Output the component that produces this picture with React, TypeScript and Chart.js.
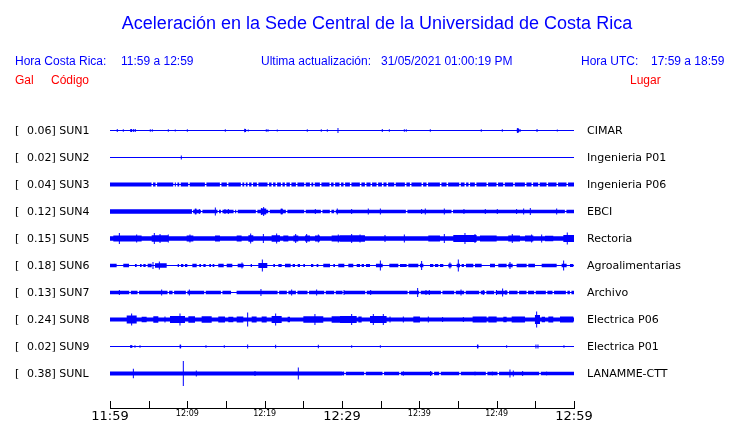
import React, { useEffect, useRef } from "react";
import { Chart, registerables } from "chart.js";

Chart.register(...registerables);

// ---------------- data ----------------
const TITLE = "Aceleración en la Sede Central de la Universidad de Costa Rica";
const LOCAL_LABEL = "Hora Costa Rica:";
const LOCAL_RANGE = "11:59 a 12:59";
const UPDATE_LABEL = "Ultima actualización:";
const UPDATE_VALUE = "31/05/2021 01:00:19 PM";
const UTC_LABEL = "Hora UTC:";
const UTC_RANGE = "17:59 a 18:59";
const COL_GAL = "Gal";
const COL_CODE = "Código";
const COL_PLACE = "Lugar";

const CODES = ["SUN1", "SUN2", "SUN3", "SUN4", "SUN5", "SUN6", "SUN7", "SUN8", "SUN9", "SUNL"];
const PEAK_GAL = [0.06, 0.02, 0.04, 0.12, 0.15, 0.18, 0.13, 0.24, 0.02, 0.38];
const PLACES = [
  "CIMAR",
  "Ingenieria P01",
  "Ingenieria P06",
  "EBCI",
  "Rectoria",
  "Agroalimentarias",
  "Archivo",
  "Electrica P06",
  "Electrica P01",
  "LANAMME-CTT",
];

// minutes since 11:59
const WINDOW_MIN = 60;
const TICK_STEP = 5;
const TICK_LABELS = ["11:59", "12:09", "12:19", "12:29", "12:39", "12:49", "12:59"];

// trace amplitudes (relative units), background noise level per station
const BASE_AMP = [0.5, 0.5, 2, 1.8, 2.3, 0.5, 1.8, 2, 0.5, 1.8];

// levels: [start minute, end minute, amplitude]; spikes: [minute, amplitude]; dips: minute
const SUN1_LEVELS = [[17.35, 17.6, 1.5], [52.6, 52.9, 2]];
const SUN1_DIPS: number[] = [];
const SUN1_SPIKES = [
  [0.94, 1.5], [1.72, 1.3], [2.68, 1.5], [2.81, 1.5], [3.06, 1.5], [3.27, 1.5], [5.21, 1.3], [5.47, 1.3],
  [7.54, 1.3], [8.44, 1], [10.0, 1.3], [14.91, 1.3], [17.42, 1.8], [17.88, 1], [20.21, 1.3], [20.43, 1.3],
  [21.63, 1], [25.51, 1.3], [27.32, 1.3], [28.1, 1.3], [29.48, 2.5], [35.21, 1.5], [36.12, 1.3], [38.06, 1.3],
  [38.31, 1.3], [41.42, 1.3], [48.01, 1.3], [50.73, 1.3], [52.72, 2.5], [53.02, 1.5], [55.22, 1.5], [57.84, 1],
];

const SUN2_LEVELS: number[][] = [];
const SUN2_DIPS: number[] = [];
const SUN2_SPIKES = [[9.22, 2]];

const SUN3_LEVELS: number[][] = [];
const SUN3_DIPS = [
  5.47, 5.99, 8.28, 8.62, 9.05, 10.21, 12.37, 14.31, 15.21, 17.02, 17.46, 17.89, 18.4, 19.09, 20.47, 20.99,
  21.51, 22.2, 22.71, 23.36, 24.14, 25.21, 25.95, 26.38, 27.24, 28.49, 29.01, 29.78, 30.3, 31.12, 32.41, 33.06,
  33.79, 34.57, 35.26, 35.86, 36.85, 38.23, 38.88, 40.39, 41.03, 42.76, 43.62, 45.26, 45.95, 46.46, 47.28,
  48.79, 50.08, 50.95, 52.24, 53.75, 54.61, 55.47, 56.55, 57.84, 59.13,
];
const SUN3_SPIKES: number[][] = [];

const SUN4_LEVELS = [[0, 10.6, 2.3], [10.95, 11.2, 2.8], [19.5, 20.2, 3], [22.05, 22.35, 2.8]];
const SUN4_DIPS = [10.65, 11.85, 14.0, 14.44, 16.08, 16.42, 18.96, 20.56, 22.84, 25.21, 27.37, 28.53, 29.09, 38.36, 44.26, 58.92];
const SUN4_SPIKES = [
  [11.08, 3], [11.55, 2.5], [13.62, 4], [14.87, 2.5], [15.3, 2.5], [19.61, 3.5], [19.87, 4.5], [20.13, 3],
  [22.2, 3], [26.55, 2.5], [29.39, 3], [31.25, 2.5], [33.4, 3], [34.96, 3], [40.3, 2.5], [40.77, 3],
  [43.23, 3], [45.77, 2.5], [48.53, 2.5], [50.08, 2.5], [52.58, 2.5], [53.49, 3], [54.35, 3.5], [57.76, 3],
];

const SUN5_LEVELS = [
  [0.43, 4.09, 3.1], [5.39, 7.54, 3.2], [9.91, 10.78, 2.9], [13.58, 14.22, 2.9], [16.38, 17.02, 3],
  [17.89, 18.53, 3.2], [20.9, 21.98, 3.2], [22.41, 23.06, 2.9], [23.71, 24.35, 2.9], [25.21, 25.86, 2.9],
  [26.51, 27.15, 2.9], [28.66, 30.39, 3], [29.74, 32.97, 3.2], [41.16, 42.67, 2.9], [44.39, 47.41, 3.4],
  [47.84, 50.0, 2.9], [51.5, 53.01, 3.1], [53.66, 54.74, 2.9], [56.25, 57.32, 2.7], [58.62, 60, 3.4],
];
const SUN5_DIPS: number[] = [];
const SUN5_SPIKES = [
  [1.21, 5.5], [3.45, 4], [5.73, 5.5], [6.47, 4.5], [7.54, 4], [10.34, 4], [18.19, 5], [19.83, 4.5],
  [21.55, 5], [24.01, 4.5], [25.43, 4.5], [26.94, 4], [29.52, 4], [31.25, 4.5], [32.33, 4], [35.56, 3.5],
  [38.06, 4], [43.23, 4.5], [45.9, 5.5], [47.2, 4.5], [52.02, 4.5], [54.52, 4], [55.82, 4], [59.13, 6],
];

const SUN6_LEVELS = [
  [0, 0.86, 1.8], [1.72, 2.46, 1.8], [3.23, 3.45, 1.5], [3.88, 4.09, 1.5], [4.31, 4.61, 1.5], [4.87, 5.39, 1.8],
  [5.82, 7.33, 2.3], [8.75, 8.92, 1.5], [9.18, 9.48, 1.5], [9.7, 10.0, 1.5], [10.65, 11.21, 1.8], [11.55, 11.77, 1.5],
  [12.07, 12.37, 1.5], [12.84, 13.06, 1.5], [13.27, 13.49, 1.5], [14.0, 14.7, 1.8], [15.09, 15.82, 1.8],
  [16.51, 17.28, 1.8], [18.19, 18.36, 1.5], [19.18, 20.34, 2.5], [21.12, 21.33, 1.5], [21.77, 22.2, 1.5],
  [22.63, 23.36, 1.8], [23.62, 23.92, 1.5], [24.27, 24.57, 1.5], [25.0, 25.21, 1.5], [25.99, 26.29, 1.5],
  [26.72, 26.94, 1.5], [27.58, 28.45, 1.8], [28.88, 29.09, 1.5], [29.52, 30.3, 1.8], [30.82, 31.46, 1.8],
  [31.9, 32.33, 1.5], [32.54, 32.84, 1.5], [33.1, 33.62, 1.5], [34.39, 35.26, 1.8], [36.12, 37.28, 1.8],
  [37.5, 38.36, 1.5], [38.58, 39.87, 1.8], [40.08, 40.52, 1.8], [41.38, 41.81, 1.5], [42.02, 42.45, 1.5],
  [42.67, 43.1, 1.5], [43.75, 44.18, 1.8], [44.83, 45.26, 1.8], [45.47, 45.77, 1.5], [46.03, 46.98, 1.8],
  [47.2, 48.06, 1.8], [49.14, 49.78, 1.8], [50.21, 51.29, 1.8], [51.5, 52.07, 1.8], [52.58, 53.88, 1.8],
  [54.09, 54.95, 1.8], [55.82, 57.76, 1.8], [58.4, 59.05, 1.8], [59.48, 59.91, 1.5],
];
const SUN6_DIPS: number[] = [];
const SUN6_SPIKES = [
  [5.56, 3.5], [6.38, 4], [17.07, 3], [19.7, 6], [34.96, 5], [40.3, 4.5], [43.96, 3], [45.04, 6], [51.72, 3.5], [58.66, 5],
];

const SUN7_LEVELS = [[15.65, 16.37, 0.5]];
const SUN7_DIPS = [
  2.59, 3.66, 7.54, 8.19, 9.91, 12.28, 14.44, 21.77, 22.97, 24.14, 25.64, 27.8, 29.09, 30.17, 33.1, 38.58,
  40.08, 42.89, 44.61, 45.9, 47.84, 48.57, 49.78, 51.5, 52.8, 53.96, 54.95, 56.46, 57.32, 59.05, 59.57,
];
const SUN7_SPIKES = [
  [1.21, 2.5], [6.68, 3], [10.26, 3], [19.52, 3.5], [23.49, 3], [26.72, 3], [30.26, 2.5], [33.71, 2.5],
  [39.78, 4.5], [40.86, 2.5], [41.29, 2.5], [45.39, 3], [48.27, 2.5], [49.98, 2.5], [50.77, 4], [51.2, 2.5],
];

const SUN8_LEVELS = [
  [2.16, 3.45, 4], [4.09, 4.74, 2.7], [5.6, 6.25, 3.2], [7.76, 9.7, 3.6], [10.13, 10.99, 3.2], [11.85, 13.15, 3.2],
  [14.0, 14.87, 3.1], [15.3, 15.95, 2.7], [16.38, 17.24, 3.1], [18.32, 18.96, 3.1], [19.61, 20.26, 3.1],
  [20.9, 22.2, 3.6], [22.97, 23.27, 2.7], [25.0, 27.58, 3.2], [28.66, 30.39, 3.2], [29.74, 31.9, 3.6],
  [32.11, 32.54, 3], [33.62, 35.77, 3.4], [39.22, 40.08, 3], [46.89, 48.7, 3.1], [48.92, 50.0, 3.1],
  [50.86, 51.29, 2.7], [51.94, 53.66, 3.1], [54.95, 55.6, 4.5], [55.82, 56.25, 2.7], [56.68, 57.32, 3.1],
  [58.19, 59.91, 3.1],
];
const SUN8_DIPS: number[] = [];
const SUN8_SPIKES = [
  [2.8, 6], [7.11, 3], [9.05, 6], [17.8, 7], [21.42, 6], [26.5, 5.5], [31.25, 5.5], [34.05, 5.5], [35.34, 5.5],
  [36.21, 3], [37.93, 3], [41.16, 3], [43.01, 2.5], [45.69, 2.5], [55.17, 8],
];

const SUN9_LEVELS = [[2.6, 2.9, 1.3], [9.0, 9.2, 1.8], [47.45, 47.65, 1.8]];
const SUN9_DIPS: number[] = [];
const SUN9_SPIKES = [
  [2.72, 1.5], [3.23, 1.3], [3.88, 1.3], [9.09, 2], [12.41, 1.3], [14.78, 1.3], [17.8, 2], [21.42, 1.8],
  [26.94, 1.8], [31.25, 1.3], [34.96, 1.3], [47.54, 2], [51.29, 1.3], [55.08, 2], [55.34, 2], [58.7, 1.3],
];

const SUNL_LEVELS = [[0, 30, 2.1]];
const SUNL_DIPS = [17.6, 18.4, 19.0, 30.39, 32.97, 35.34, 37.5, 41.81, 42.67, 45.26, 48.7, 50.21, 55.6];
const SUNL_SPIKES = [
  [3.02, 4.7], [4.44, 2], [6.9, 1.5], [9.48, 12.5], [11.16, 3], [18.1, 2], [18.75, 2.5], [19.27, 2],
  [24.35, 6], [30.17, 2], [37.93, 2.3], [41.46, 2.5], [47.2, 2], [49.44, 2], [51.72, 4], [52.15, 3],
  [53.36, 2.5], [56.46, 2],
];

const STATION_LEVELS = [SUN1_LEVELS, SUN2_LEVELS, SUN3_LEVELS, SUN4_LEVELS, SUN5_LEVELS, SUN6_LEVELS, SUN7_LEVELS, SUN8_LEVELS, SUN9_LEVELS, SUNL_LEVELS];
const STATION_DIPS = [SUN1_DIPS, SUN2_DIPS, SUN3_DIPS, SUN4_DIPS, SUN5_DIPS, SUN6_DIPS, SUN7_DIPS, SUN8_DIPS, SUN9_DIPS, SUNL_DIPS];
const STATION_SPIKES = [SUN1_SPIKES, SUN2_SPIKES, SUN3_SPIKES, SUN4_SPIKES, SUN5_SPIKES, SUN6_SPIKES, SUN7_SPIKES, SUN8_SPIKES, SUN9_SPIKES, SUNL_SPIKES];

// ---------------- style ----------------
const BLUE = "#0000ff";
const RED = "#ff0000";
const GAIN = 1 / 27; // rows per amplitude unit
const SPIKE_HW = 0.065; // minutes
const DIP_HW = 0.1; // minutes
const DIP_AMP = 0.5;
const Y_MIN = -0.0185;
const Y_MAX = 11.278;

type Pt = { x: number; amp: number };

function envelope(base: number, levels: number[][], dips: number[], spikes: number[][]): Pt[] {
  const set = new Set<number>([0, WINDOW_MIN]);
  levels.forEach(([a, b]) => {
    set.add(a);
    set.add(b);
  });
  dips.forEach((t) => {
    set.add(t - DIP_HW);
    set.add(t + DIP_HW);
  });
  spikes.forEach(([t]) => {
    set.add(t - SPIKE_HW);
    set.add(t + SPIKE_HW);
  });
  const xs = Array.from(set)
    .filter((x) => x >= 0 && x <= WINDOW_MIN)
    .sort((a, b) => a - b);
  const out: Pt[] = [];
  for (let i = 0; i < xs.length - 1; i++) {
    const a = xs[i];
    const b = xs[i + 1];
    if (b - a < 1e-6) continue;
    const m = (a + b) / 2;
    let amp = base;
    const lv = levels.filter(([s, e]) => m >= s && m < e);
    if (lv.length) amp = Math.max(...lv.map((l) => l[2]));
    else if (dips.some((t) => Math.abs(m - t) < DIP_HW)) amp = DIP_AMP;
    const sp = spikes.filter(([t]) => Math.abs(m - t) < SPIKE_HW);
    if (sp.length) amp = Math.max(amp, ...sp.map((s) => s[1]));
    if (out.length && out[out.length - 1].amp === amp) continue;
    out.push({ x: a, amp });
  }
  out.push({ x: WINDOW_MIN, amp: out[out.length - 1].amp });
  return out;
}

const textPlugin = {
  id: "seismoText",
  afterDraw(chart: any) {
    const ctx = chart.ctx as CanvasRenderingContext2D;
    const xs = chart.scales.x;
    const ys = chart.scales.y;
    const area = chart.chartArea;
    ctx.save();

    // header
    ctx.fillStyle = BLUE;
    ctx.textBaseline = "alphabetic";
    ctx.font = '18px "Liberation Sans", Arial, sans-serif';
    ctx.textAlign = "center";
    ctx.fillText(TITLE, 377, 29);
    ctx.textAlign = "left";
    ctx.font = '12px "Liberation Sans", Arial, sans-serif';
    ctx.fillText(LOCAL_LABEL, 15, 65);
    ctx.fillText(LOCAL_RANGE, 121, 65);
    ctx.fillText(UPDATE_LABEL, 261, 65);
    ctx.fillText(UPDATE_VALUE, 381, 65);
    ctx.fillText(UTC_LABEL, 581, 65);
    ctx.fillText(UTC_RANGE, 651, 65);
    ctx.fillStyle = RED;
    ctx.fillText(COL_GAL, 15, 84);
    ctx.fillText(COL_CODE, 51, 84);
    ctx.fillText(COL_PLACE, 630, 84);

    // station labels
    ctx.fillStyle = "#000";
    ctx.font = '11px "DejaVu Sans", sans-serif';
    ctx.textBaseline = "middle";
    CODES.forEach((code, i) => {
      const y = ys.getPixelForValue(i + 1) + 1;
      ctx.fillText("[", 15, y);
      ctx.fillText(`${PEAK_GAL[i].toFixed(2)}] ${code}`, 27, y);
      ctx.fillText(PLACES[i], area.right + 13, y);
    });

    // axis tick marks (pointing up)
    ctx.strokeStyle = "#000";
    ctx.lineWidth = 1;
    ctx.beginPath();
    xs.ticks.forEach((t: any) => {
      const px = Math.round(xs.getPixelForValue(t.value)) + 0.5;
      ctx.moveTo(px, area.bottom);
      ctx.lineTo(px, area.bottom - 7);
    });
    ctx.stroke();
    ctx.restore();
  },
};

export default function App() {
  const ref = useRef<HTMLCanvasElement>(null);
  useEffect(() => {
    if (!ref.current) return;
    const datasets: any[] = [];
    CODES.forEach((_, i) => {
      const env = envelope(BASE_AMP[i], STATION_LEVELS[i], STATION_DIPS[i], STATION_SPIKES[i]);
      const row = i + 1;
      const common = {
        type: "line",
        stepped: true,
        borderWidth: 0,
        borderColor: "rgba(0,0,0,0)",
        backgroundColor: BLUE,
        pointRadius: 0,
        tension: 0,
      };
      datasets.push({
        ...common,
        label: CODES[i] + "+",
        data: env.map((p) => ({ x: p.x, y: row - p.amp * GAIN })),
        fill: false,
      });
      datasets.push({
        ...common,
        label: CODES[i] + "-",
        data: env.map((p) => ({ x: p.x, y: row + p.amp * GAIN })),
        fill: "-1",
      });
    });

    const chart = new Chart(ref.current, {
      type: "line",
      data: { datasets },
      options: {
        animation: false,
        responsive: false,
        devicePixelRatio: 1,
        events: [],
        layout: { padding: { left: 110, right: 166, top: 103, bottom: 0 } },
        plugins: { legend: { display: false }, tooltip: { enabled: false }, title: { display: false } },
        scales: {
          x: {
            type: "linear",
            min: 0,
            max: WINDOW_MIN,
            grid: { display: false, drawTicks: false },
            border: { display: true, color: "#000", width: 1 },
            afterFit: (s: any) => {
              s.height = 15;
            },
            ticks: {
              stepSize: TICK_STEP,
              autoSkip: false,
              maxRotation: 0,
              padding: 1,
              color: "#000",
              font: (c: any) =>
                c.tick && c.tick.value % 30 === 0
                  ? { family: '"DejaVu Sans", sans-serif', size: 13 }
                  : { family: '"DejaVu Sans", sans-serif', size: 8 },
              callback: (v: any) => (Number(v) % 10 === 0 ? TICK_LABELS[Number(v) / 10] : ""),
            },
          },
          y: {
            type: "linear",
            display: false,
            reverse: true,
            min: Y_MIN,
            max: Y_MAX,
          },
        },
      } as any,
      plugins: [textPlugin],
    } as any);
    return () => chart.destroy();
  }, []);

  return (
    <div style={{ position: "absolute", left: 0, top: 0, width: 740, height: 423, background: "#fff" }}>
      <canvas ref={ref} width={740} height={423} style={{ display: "block" }} />
    </div>
  );
}
